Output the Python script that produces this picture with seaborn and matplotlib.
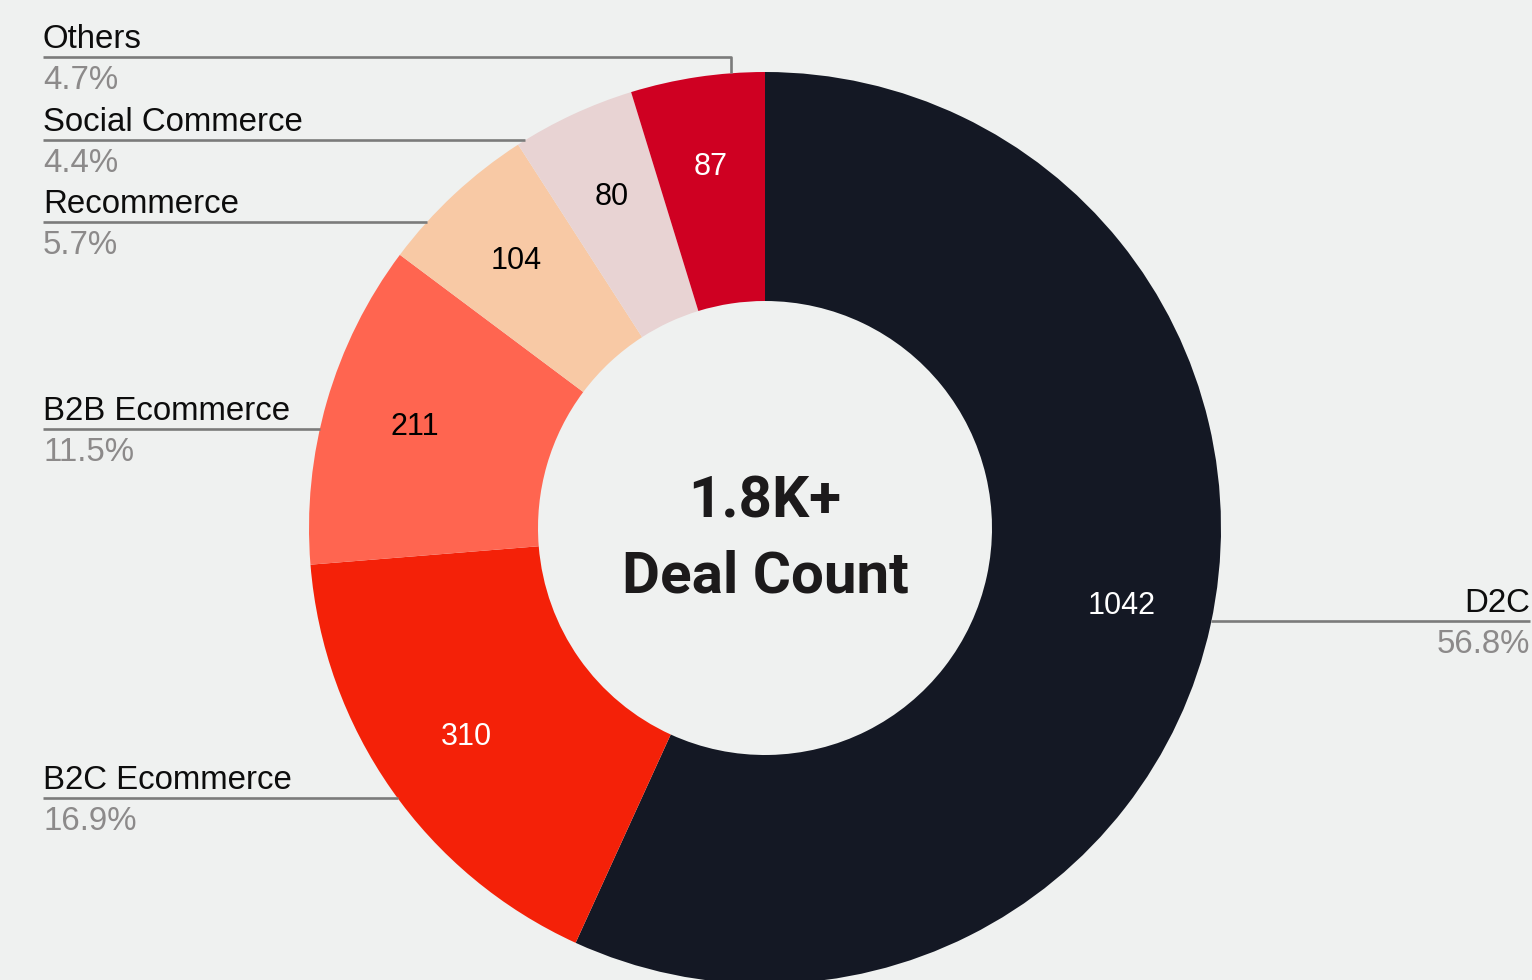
import numpy as np
import matplotlib
matplotlib.use("Agg")
import matplotlib.pyplot as plt
import seaborn as sns

# Deal count by commerce segment (clockwise from 12 o'clock)
segments = ["D2C", "B2C Ecommerce", "B2B Ecommerce", "Recommerce", "Social Commerce", "Others"]
deal_counts = [1042, 310, 211, 104, 80, 87]
share_labels = ["56.8%", "16.9%", "11.5%", "5.7%", "4.4%", "4.7%"]
segment_colors = ["#141824", "#f42108", "#ff6550", "#f8c9a5", "#e8d3d3", "#cf0022"]
value_text_colors = ["white", "white", "black", "black", "black", "white"]

W, H = 1532, 980
BG = "#eff1f0"

sns.set_theme(style="white")
plt.rcParams["font.family"] = ["Liberation Sans", "DejaVu Sans"]

fig = plt.figure(figsize=(W / 100, H / 100), dpi=100, facecolor=BG)
ax = fig.add_axes([0, 0, 1, 1])
ax.set_facecolor(BG)


def py(y):
    """Convert a top-down pixel row to the axes' bottom-up coordinate."""
    return H - y


cx, cy = 765, py(528)
R_OUT, R_IN = 456, 227
palette = sns.color_palette(segment_colors)

wedges, _, autotexts = ax.pie(
    deal_counts,
    colors=palette,
    startangle=90,
    counterclock=False,
    center=(cx, cy),
    radius=R_OUT,
    wedgeprops=dict(width=R_OUT - R_IN, linewidth=0),
    autopct=lambda p: f"{p * sum(deal_counts) / 100:.0f}",
    pctdistance=0.8,
    textprops=dict(fontsize=22, family="Liberation Sans"),
    frame=False,
)
for t, c in zip(autotexts, value_text_colors):
    t.set_color(c)

ax.set_xlim(0, W)
ax.set_ylim(0, H)
ax.set_aspect("equal")
ax.axis("off")

# Centre title
ax.text(cx, py(502), "1.8K+", ha="center", va="center", fontsize=42,
        fontweight="bold", family="Roboto", color="#1c1a1b")
ax.text(cx, py(577), "Deal Count", ha="center", va="center", fontsize=42,
        fontweight="bold", family="Roboto", color="#1c1a1b")

# Callout layout: (segment index, leader row, side)
callouts = [
    (5, 57, "left"),
    (4, 140, "left"),
    (3, 222, "left"),
    (2, 429, "left"),
    (1, 798, "left"),
    (0, 621, "right"),
]
LINE_C = "#7b7b7b"
LABEL_FS = 23.8
x_left, x_right = 43, 1530
elbow_x = 731  # where the top callout turns down onto the ring

for idx, row, side in callouts:
    y = py(row)
    dy = y - cy
    if abs(dy) < R_OUT:
        dx = np.sqrt(R_OUT ** 2 - dy ** 2)
        xs = [x_left, cx - dx] if side == "left" else [cx + dx, x_right]
        ys = [y, y]
    else:
        ring_y = cy + np.sqrt(R_OUT ** 2 - (elbow_x - cx) ** 2)
        xs = [x_left, elbow_x, elbow_x]
        ys = [y, y, ring_y]
    ax.plot(xs, ys, color=LINE_C, lw=1.9, solid_capstyle="butt", zorder=1)

    tx = x_left if side == "left" else x_right
    ha = "left" if side == "left" else "right"
    ax.text(tx, y + 9, segments[idx], ha=ha, va="baseline", fontsize=LABEL_FS,
            color="#0d0d0d")
    ax.text(tx, y - 32, share_labels[idx], ha=ha, va="baseline", fontsize=LABEL_FS,
            color="#8c8a8a")

fig.savefig("out.png", dpi=100, facecolor=BG)
